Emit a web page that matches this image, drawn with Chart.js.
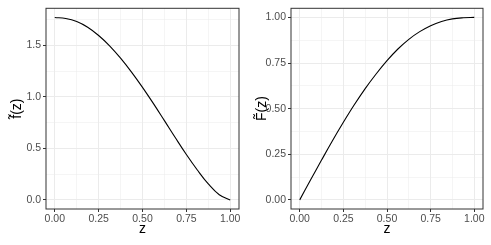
<!DOCTYPE html>
<html>
<head>
<meta charset="utf-8">
<script src="https://cdn.jsdelivr.net/npm/chart.js@4"></script>
<style>
  body { margin: 0; background: #fff; }
  .panel { position: absolute; top: 0; }
</style>
</head>
<body>
<div class="panel" style="left:0"><canvas id="density-chart" width="245" height="245"></canvas></div>
<div class="panel" style="left:245px"><canvas id="cdf-chart" width="246" height="245"></canvas></div>
<script>
// values
const zValues = [0, 0.0625, 0.125, 0.1875, 0.25, 0.3125, 0.375, 0.4375, 0.5,
                 0.5625, 0.625, 0.6875, 0.75, 0.8125, 0.875, 0.9375, 1];
const densityValues = [1.77, 1.76, 1.73, 1.675, 1.595, 1.495, 1.375, 1.24, 1.092,
                       0.934, 0.769, 0.602, 0.44, 0.29, 0.155, 0.05, 0];
const cdfValues = [0, 0.11, 0.218, 0.324, 0.425, 0.521, 0.61, 0.69, 0.763,
                   0.827, 0.88, 0.922, 0.955, 0.978, 0.992, 0.998, 1];

const xTicks = [0, 0.25, 0.5, 0.75, 1];
const xTickLabels = ['0.00', '0.25', '0.50', '0.75', '1.00'];
const densityTicks = [0, 0.5, 1, 1.5];
const densityTickLabels = ['0.0', '0.5', '1.0', '1.5'];
const cdfTicks = [0, 0.25, 0.5, 0.75, 1];
const cdfTickLabels = ['0.00', '0.25', '0.50', '0.75', '1.00'];

const tickFont = { family: 'Liberation Sans', size: 10.5 };
const titleFont = { family: 'Liberation Sans', size: 14 };

// ggplot-ish expanded range (5% each side)
function expand(vals) {
  const lo = Math.min(...vals), hi = Math.max(...vals);
  const d = (hi - lo) * 0.05;
  return [lo - d, hi + d];
}

// major ticks plus minor midpoints that fall inside the range
function withMinor(major, lo, hi) {
  const step = major[1] - major[0];
  const all = [];
  for (let i = -1; i < major.length; i++) {
    const m = (i >= 0 ? major[i] : major[0] - step);
    if (i >= 0) all.push(m);
    const mid = m + step / 2;
    if (mid >= lo && mid <= hi) all.push(mid);
  }
  return all.sort((a, b) => a - b);
}

function isMajor(list, v) {
  return list.some(t => Math.abs(t - v) < 1e-9);
}

function axis(major, labels, range, title, fixedSize, horizontal) {
  const [lo, hi] = range;
  return {
    type: 'linear',
    min: lo,
    max: hi,
    afterBuildTicks: scale => {
      scale.ticks = withMinor(major, lo, hi).map(v => ({ value: v }));
    },
    afterFit: scale => {
      if (horizontal) scale.height = fixedSize; else scale.width = fixedSize;
    },
    border: { display: false },
    grid: {
      color: '#ebebeb',
      lineWidth: ctx => (ctx.tick && isMajor(major, ctx.tick.value) ? 1 : 0.5),
      tickColor: ctx => (ctx.tick && isMajor(major, ctx.tick.value) ? '#333333' : 'rgba(0,0,0,0)'),
      tickWidth: 1,
      tickLength: 3
    },
    ticks: {
      autoSkip: false,
      maxRotation: 0,
      color: '#4d4d4d',
      font: tickFont,
      padding: horizontal ? 1 : 2,
      callback: v => {
        const i = major.findIndex(t => Math.abs(t - v) < 1e-9);
        return i >= 0 ? labels[i] : '';
      }
    },
    title: {
      display: true,
      text: title,
      color: '#000',
      font: titleFont,
      padding: horizontal ? { top: 0, bottom: 7 } : { top: 9, bottom: 0 }
    }
  };
}

const panelBorder = {
  id: 'panelBorder',
  afterDraw(chart) {
    const { ctx, chartArea: a } = chart;
    ctx.save();
    ctx.strokeStyle = '#333333';
    ctx.lineWidth = 1;
    ctx.strokeRect(a.left, a.top, a.right - a.left, a.bottom - a.top);
    ctx.restore();
  }
};

function makeChart(id, values, yTicks, yLabels, yTitle, padRight) {
  return new Chart(document.getElementById(id), {
    type: 'line',
    data: {
      datasets: [{
        data: zValues.map((z, i) => ({ x: z, y: values[i] })),
        borderColor: '#000',
        borderWidth: 1.1,
        pointRadius: 0,
        tension: 0.4,
        fill: false
      }]
    },
    options: {
      responsive: false,
      animation: false,
      layout: { padding: { left: 0, top: 7, right: padRight, bottom: 0 } },
      plugins: { legend: { display: false }, tooltip: { enabled: false } },
      scales: {
        x: axis(xTicks, xTickLabels, expand(zValues), 'z', 36, true),
        y: axis(yTicks, yLabels, expand(values), yTitle, 46, false)
      }
    },
    plugins: [panelBorder]
  });
}

const densityChart = makeChart('density-chart', densityValues, densityTicks, densityTickLabels, 'f\u0303(z)', 6);
const cdfChart = makeChart('cdf-chart', cdfValues, cdfTicks, cdfTickLabels, 'F\u0303(z)', 8);
</script>
</body>
</html>
